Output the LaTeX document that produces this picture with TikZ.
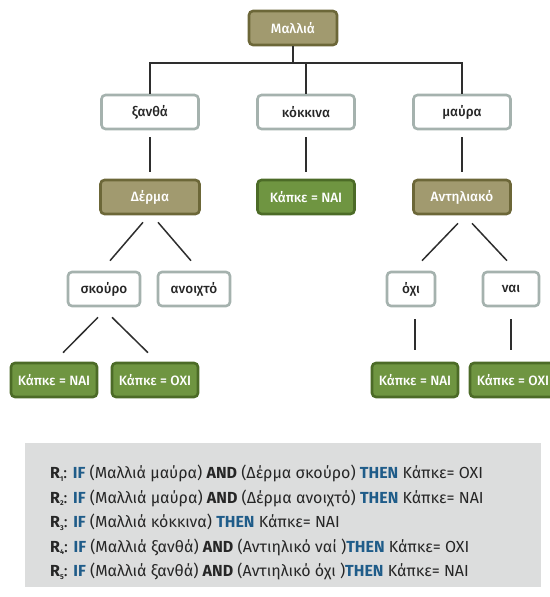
\documentclass[tikz,border=0pt]{standalone}
\usepackage{fontspec}
\setmainfont{Fira Sans}
\newfontfamily\medfont{Fira Sans Medium}
\usetikzlibrary{calc}
\definecolor{olivefill}{HTML}{A19A6F}
\definecolor{olivedraw}{HTML}{6C6738}
\definecolor{greenfill}{HTML}{6F9541}
\definecolor{greendraw}{HTML}{4C6B27}
\definecolor{graydraw}{HTML}{A5B2AE}
\definecolor{rulebg}{HTML}{DCDDDD}
\definecolor{kwblue}{HTML}{1F5C89}
\definecolor{edgecol}{HTML}{2E2E2E}
\tikzset{
  base/.style={rounded corners=4pt, line width=2.6pt, minimum height=34pt, font=\medfont\fontsize{13.5}{15}\selectfont, inner sep=0pt},
  attr/.style={base, fill=olivefill, draw=olivedraw, text=white, minimum width=88pt},
  val/.style={base, fill=white, draw=graydraw, text=black!85},
  leaf/.style={base, fill=greenfill, draw=greendraw, text=white, minimum width=86pt},
  edge/.style={draw=edgecol, line width=1.5pt},
}
\newcommand{\kwif}{\textbf{\color{kwblue}IF}}
\newcommand{\kwthen}{\textbf{\color{kwblue}THEN}}
\newcommand{\kwand}{\textbf{AND}}
\newcommand{\rl}[1]{\textbf{R}\raisebox{-2.5pt}{\fontsize{7}{7}\selectfont\bfseries #1}:}
\begin{document}
\begin{tikzpicture}[x=1pt,y=-1pt]
\useasboundingbox (0,0) rectangle (549,597);
% rules background
\node[fill=rulebg, minimum width=516pt, minimum height=144pt, inner sep=0pt, anchor=north west] (rules) at (25,443) {};
% tree nodes
\node[attr] (mallia) at (293,28) {Μαλλιά};
\node[val, minimum width=97pt] (xantha) at (150,112) {ξανθά};
\node[val, minimum width=97pt] (kokkina) at (306,112) {κόκκινα};
\node[val, minimum width=97pt] (mavra) at (462,112) {μαύρα};
\node[attr, minimum width=99pt] (derma) at (150,197) {Δέρμα};
\node[leaf, minimum width=97pt] (leafk) at (306,197) {Κάπκε = NAI};
\node[attr, minimum width=97pt] (antil) at (462,197) {Αντηλιακό};
\node[val, minimum width=72pt] (skouro) at (104,289) {σκούρο};
\node[val, minimum width=72pt] (anoixto) at (194,289) {ανοιχτό};
\node[val, minimum width=48pt] (oxi) at (411,289) {όχι};
\node[val, minimum width=56pt] (nai) at (511,289) {ναι};
\node[leaf] (leafa) at (54,380) {Κάπκε = NAI};
\node[leaf] (leafb) at (155,380) {Κάπκε = OXI};
\node[leaf] (leafc) at (415,380) {Κάπκε = NAI};
\node[leaf] (leafd) at (513,380) {Κάπκε = OXI};
% connectors
\coordinate (bar) at (293,63);
\draw[edge] (mallia.south) -- (mallia.south |- bar);
\draw[edge] (xantha.north) -- (xantha.north |- bar) -- (mavra.north |- bar) -- (mavra.north);
\draw[edge] (kokkina.north) -- (kokkina.north |- bar);
\draw[edge, shorten <=7pt, shorten >=7pt] (xantha.south) -- (derma.north);
\draw[edge, shorten <=7pt, shorten >=7pt] (kokkina.south) -- (leafk.north);
\draw[edge, shorten <=7pt, shorten >=7pt] (mavra.south) -- (antil.north);
\draw[edge] ($(derma.south)+(-7,7)$) -- ($(skouro.north)+(6,-10)$);
\draw[edge] ($(derma.south)+(8,7)$) -- ($(anoixto.north)+(-3,-10)$);
\draw[edge] ($(antil.south)+(-4,8)$) -- ($(oxi.north)+(11,-10)$);
\draw[edge] ($(antil.south)+(10,8)$) -- ($(nai.north)+(-4,-10)$);
\draw[edge] ($(skouro.south)+(-6,10)$) -- ($(leafa.north)+(9,-9)$);
\draw[edge] ($(skouro.south)+(8,10)$) -- ($(leafb.north)+(-7,-9)$);
\draw[edge, shorten <=12pt, shorten >=12pt] (oxi.south -| leafc.north) -- (leafc.north);
\draw[edge, shorten <=12pt, shorten >=12pt] (nai.south) -- (nai.south |- leafd.north);
% rules text
\node[anchor=north west, align=left, inner sep=0pt, font=\fontsize{16}{24.5}\selectfont, text=black!85] (ruletext) at (50,465) {%
\rl{1} \kwif{} (Μαλλιά μαύρα) \kwand{} (Δέρμα σκούρο) \kwthen{} Κάπκε= OXI\\
\rl{2} \kwif{} (Μαλλιά μαύρα) \kwand{} (Δέρμα ανοιχτό) \kwthen{} Κάπκε= NAI\\
\rl{3} \kwif{} (Μαλλιά κόκκινα) \kwthen{} Κάπκε= NAI\\
\rl{4} \kwif{} (Μαλλιά ξανθά) \kwand{} (Αντιηλικό ναί )\kwthen{} Κάπκε= OXI\\
\rl{5} \kwif{} (Μαλλιά ξανθά) \kwand{} (Αντιηλικό όχι )\kwthen{} Κάπκε= NAI};
\end{tikzpicture}
\end{document}
